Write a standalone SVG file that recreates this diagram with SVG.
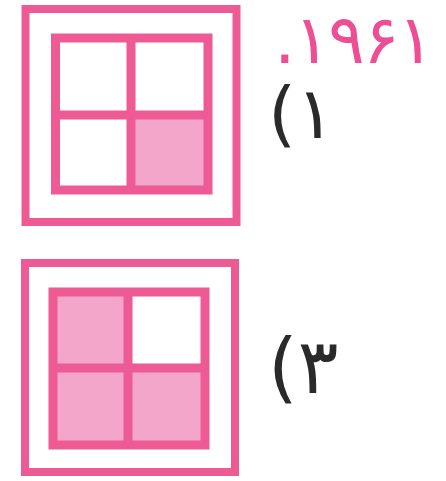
<svg xmlns="http://www.w3.org/2000/svg" width="446" height="481" viewBox="0 0 446 481">
<style>
.frame{fill:none;stroke:#EE5A94;stroke-width:8}
.grid{fill:none;stroke:#EE5A94;stroke-width:9}
.cell{fill:#F4A5CA}
.lbl{font-family:"DejaVu Sans",sans-serif;fill:#2a2a2a}
.yr{font-family:"DejaVu Sans",sans-serif;fill:#EE4F94}
</style>
<rect width="446" height="481" fill="#ffffff"/>
<g id="figure1">
<rect class="frame" x="25.5" y="9" width="211" height="213"/>
<rect class="cell" x="131" y="115" width="77" height="75"/>
<rect class="grid" x="55.5" y="38" width="152.5" height="152"/>
<line class="grid" x1="131" y1="38" x2="131" y2="190" stroke-width="10"/>
<line class="grid" x1="55.5" y1="115" x2="208" y2="115" stroke-width="10"/>
</g>
<g id="figure3">
<rect class="frame" x="25" y="263" width="210" height="209"/>
<rect class="cell" x="53" y="292" width="152" height="153"/>
<rect x="128" y="292" width="77" height="76" fill="#ffffff"/>
<rect class="grid" x="53" y="292" width="152" height="153"/>
<line class="grid" x1="128" y1="292" x2="128" y2="445" stroke-width="10"/>
<line class="grid" x1="53" y1="368" x2="205" y2="368" stroke-width="10"/>
</g>
<g id="labels">
<text class="yr" x="274" y="63" font-size="68" textLength="160" lengthAdjust="spacing">.۱۹۶۱</text>
<text class="lbl" x="268" y="138" font-size="72">(۱</text>
<text class="lbl" x="268" y="393" font-size="76">(۳</text>
</g>
</svg>
